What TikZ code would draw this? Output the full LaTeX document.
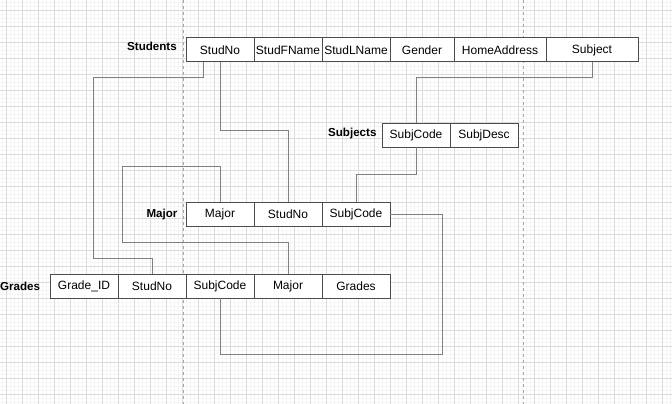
\documentclass[tikz,border=0pt]{standalone}
\usepackage{fontspec}
\setmainfont{Liberation Sans}
\usetikzlibrary{positioning}

\begin{document}
\begin{tikzpicture}[
        x=1pt, y=-1pt,
        % Node style: table cells
        node distance=0pt,
        cell/.style={
                draw=black!70, fill=white, line width=1pt,
                minimum width=68pt, minimum height=24pt,
                inner sep=0pt, outer sep=0pt,
                font=\fontsize{12}{14}\selectfont
            },
        tname/.style={inner sep=0pt, font=\fontsize{11.6}{14}\selectfont\bfseries},
        % Connector style
        link/.style={draw=black!50, line width=1pt},
        % Grid style
        minor/.style={black!4, line width=0.8pt},
        major/.style={black!14, line width=0.8pt}
    ]

    \useasboundingbox (0,0) rectangle (672,404);
    \fill[white] (0,0) rectangle (672,404);

    %% ---- Background grid ----
    \foreach \x in {2.7,6.7,...,672} \draw[minor] (\x,0) -- (\x,404);
    \foreach \y in {2,6,...,404} \draw[minor] (0,\y) -- (672,\y);
    \foreach \x in {6.7,22.7,...,672} \draw[major] (\x,0) -- (\x,404);
    \foreach \y in {10,26,...,404} \draw[major] (0,\y) -- (672,\y);

    %% ---- Page breaks ----
    \draw[black!35, line width=0.8pt, dash pattern=on 3pt off 3pt] (183,0) -- (183,404);
    \draw[black!35, line width=0.8pt, dash pattern=on 3pt off 3pt] (523,0) -- (523,404);

    %% ---- Students ----
    \node[cell, anchor=north west] (stNo) at (186,38) {StudNo};
    \node[cell, right=of stNo] (stFName) {StudFName};
    \node[cell, right=of stFName] (stLName) {StudLName};
    \node[cell, right=of stLName, minimum width=64pt] (stGender) {Gender};
    \node[cell, right=of stGender, minimum width=92pt] (stAddr) {HomeAddress};
    \node[cell, right=of stAddr, minimum width=92pt] (stSubj) {Subject};
    \node[tname, left=9pt of stNo, yshift=4pt] (stName) {Students};

    %% ---- Subjects ----
    \node[cell, anchor=north west] (sjCode) at (382,123) {SubjCode};
    \node[cell, right=of sjCode] (sjDesc) {SubjDesc};
    \node[tname, left=5.3pt of sjCode, yshift=1pt] (sjName) {Subjects};

    %% ---- Major ----
    \node[cell, anchor=north west] (mjMajor) at (186,202) {Major};
    \node[cell, right=of mjMajor] (mjNo) {StudNo};
    \node[cell, right=of mjNo] (mjCode) {SubjCode};
    \node[tname, left=8.3pt of mjMajor] (mjName) {Major};

    %% ---- Grades ----
    \node[cell, anchor=north west] (grID) at (50,274) {Grade\_ID};
    \node[cell, right=of grID] (grNo) {StudNo};
    \node[cell, right=of grNo] (grCode) {SubjCode};
    \node[cell, right=of grCode] (grMajor) {Major};
    \node[cell, right=of grMajor] (grGrades) {Grades};
    \node[tname, left=9.7pt of grID] (grName) {Grades};

    %% ---- Connectors ----
    \draw[link] ([xshift=-17pt]stNo.south) |- (93,78) |- ([yshift=16pt]grNo.north) -- (grNo.north);
    \draw[link] (stNo.south) |- ([yshift=72pt]mjNo.north) -- (mjNo.north);
    \draw[link] (stSubj.south) -- ++(0,16) -| (sjCode.north);
    \draw[link] (sjCode.south) -- ++(0,27) -| (mjCode.north);
    \draw[link] (mjMajor.north) |- (122,166) |- ([yshift=32pt]grMajor.north) -- (grMajor.north);
    \draw[link] (mjCode.east) -| (442,354) -| (grCode.south);

\end{tikzpicture}
\end{document}
